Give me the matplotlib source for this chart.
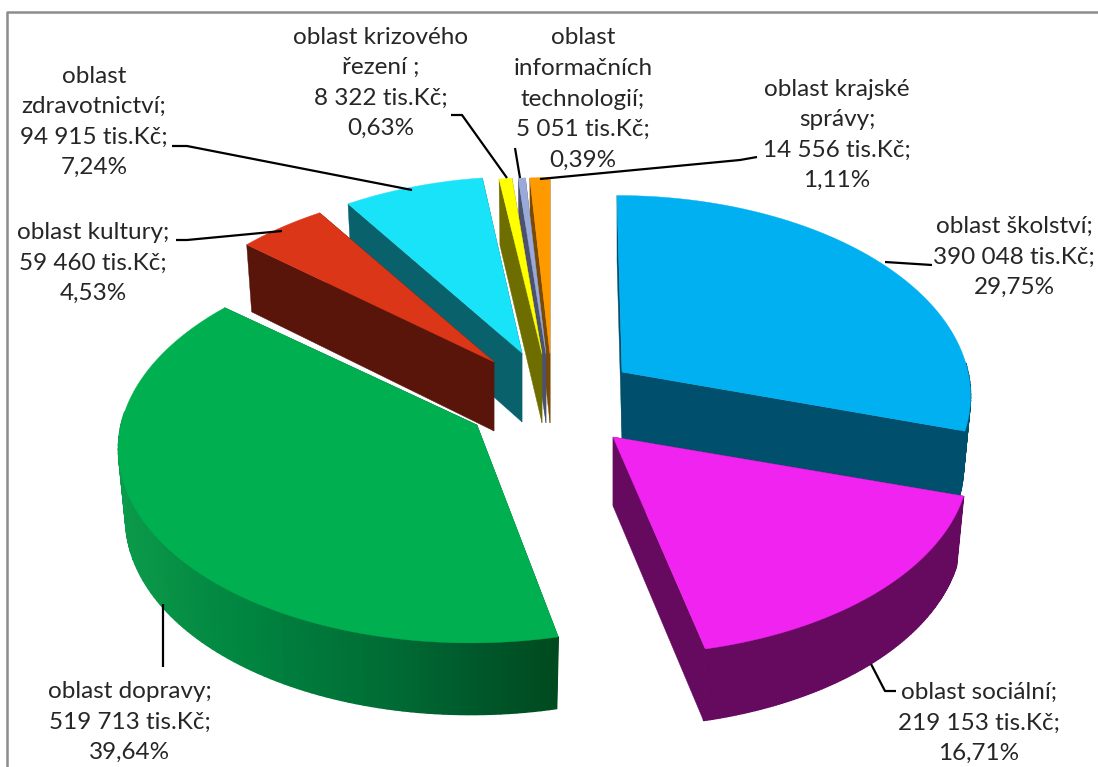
# -*- coding: UTF-8 -*-
import numpy as np
import matplotlib
matplotlib.use('Agg')
import matplotlib.pyplot as plt

plt.rcParams['font.family'] = ['Lato', 'DejaVu Sans']

# data, clockwise from the top of the pie
names = ['oblast školství;', 'oblast sociální;', 'oblast dopravy;', 'oblast kultury;',
         'oblast\nzdravotnictví;', 'oblast krizového\nřezení ;',
         'oblast\ninformačních\ntechnologií;', 'oblast krajské\nsprávy;']
values = [390048, 219153, 519713, 59460, 94915, 8322, 5051, 14556]
percents = ['29,75%', '16,71%', '39,64%', '4,53%', '7,24%', '0,63%', '0,39%', '1,11%']

# look of the slices
top_colors = ['#00B0F0', '#F023F0', '#00B050', '#DC3618', '#19E3F8', '#FFFF00', '#9AAAD8', '#FF9900']
side_colors = ['#004F6C', '#660A60', '#00602C', '#5A150A', '#08616B', '#6E6E00', '#4A5270', '#7A4A00']
centers = [(622, 372), (613, 437), (477, 425), (494, 362), (522, 353), (542, 354), (546, 354), (550, 354)]
radius_x = [346, 354, 356, 348, 344, 360, 330, 320]
RY = 195
P = 0.105
DEPTH = 69

# gradient on the rim of the big green slice
green_theta = [167, 180, 190, 215, 240, 270]
green_rim = ['#004A20', '#005A2C', '#006A34', '#008540', '#0A9648', '#0A9C4C']

# label centre and leader line for each slice
label_pos = [(1014, 257), (979, 723), (130, 722), (93, 263), (94, 122), (381, 83), (583, 99), (837, 135)]
leaders = [[(885, 262), (932, 265)],
           [(871, 664), (885, 691), (896, 691)],
           [(163, 604), (163, 667)],
           [(176, 240), (187, 240), (282, 231)],
           [(172, 146), (187, 146), (412, 190)],
           [(451, 115), (462, 115), (507, 178)],
           [(515, 148), (520, 178)],
           [(757, 157), (740, 160), (540, 179)]]


def project(theta, cx, cy, rx, level=0.0):
    w = 1 + P * np.cos(theta)
    dx = rx * np.sin(theta) / w
    dy = -RY * np.cos(theta) / w
    x = cx + dx + (cx - 550) * 0.0004 * dy
    y = cy + dy
    if level:
        x = cx + (x - cx) * 0.98
        y = y + DEPTH * (1 - 0.04 * np.cos(theta))
    return x, y


fig = plt.figure(figsize=(10.98, 7.67), dpi=100)
ax = fig.add_axes([0, 0, 1, 1])
ax.set_xlim(0, 1098)
ax.set_ylim(767, 0)
ax.axis('off')

ax.plot([7, 7, 1098], [767, 12, 12], color='#8C8C8C', lw=1.8)

total = sum(values)
edges = np.cumsum([0] + values) / total * 2 * np.pi
draw_order = [7, 6, 5, 4, 3, 2, 0, 1]
rim_rgb = np.array([matplotlib.colors.to_rgb(k) for k in green_rim])

for i in draw_order:
    cx, cy = centers[i]
    rx = radius_x[i]
    t = np.linspace(edges[i], edges[i + 1], 120)
    # cut faces
    for a in (edges[i], edges[i + 1]):
        tx, ty = project(a, cx, cy, rx)
        bx, by = project(a, cx, cy, rx, level=1)
        ax.fill([cx, tx, bx, cx], [cy, ty, by, cy + DEPTH], color=side_colors[i], lw=0.3)
    # rim, only the part turned to the viewer
    for a, b in zip(t[:-1], t[1:]):
        if np.cos(a) > 0.05:
            continue
        x1, y1 = project(a, cx, cy, rx)
        x2, y2 = project(b, cx, cy, rx)
        x3, y3 = project(b, cx, cy, rx, level=1)
        x4, y4 = project(a, cx, cy, rx, level=1)
        c = side_colors[i]
        if i == 2:
            d = np.degrees(a)
            c = [np.interp(d, green_theta, rim_rgb[:, n]) for n in range(3)]
        ax.fill([x1, x2, x3, x4], [y1, y2, y3, y4], color=c, lw=1.0)
    # top surface
    px, py = project(t, cx, cy, rx)
    ax.fill(np.r_[cx, px], np.r_[cy, py], color=top_colors[i], lw=0.3)

for i in range(len(names)):
    v = f'{values[i]:,}'.replace(',', ' ')
    ax.text(label_pos[i][0], label_pos[i][1], f'{names[i]}\n{v} tis.Kč;\n{percents[i]}',
            ha='center', va='center', fontsize=17.5, color='#262626', linespacing=1.56)
    xs, ys = zip(*leaders[i])
    ax.plot(xs, ys, color='black', lw=1.6, solid_capstyle='butt')

fig.savefig('out.png', dpi=100)
